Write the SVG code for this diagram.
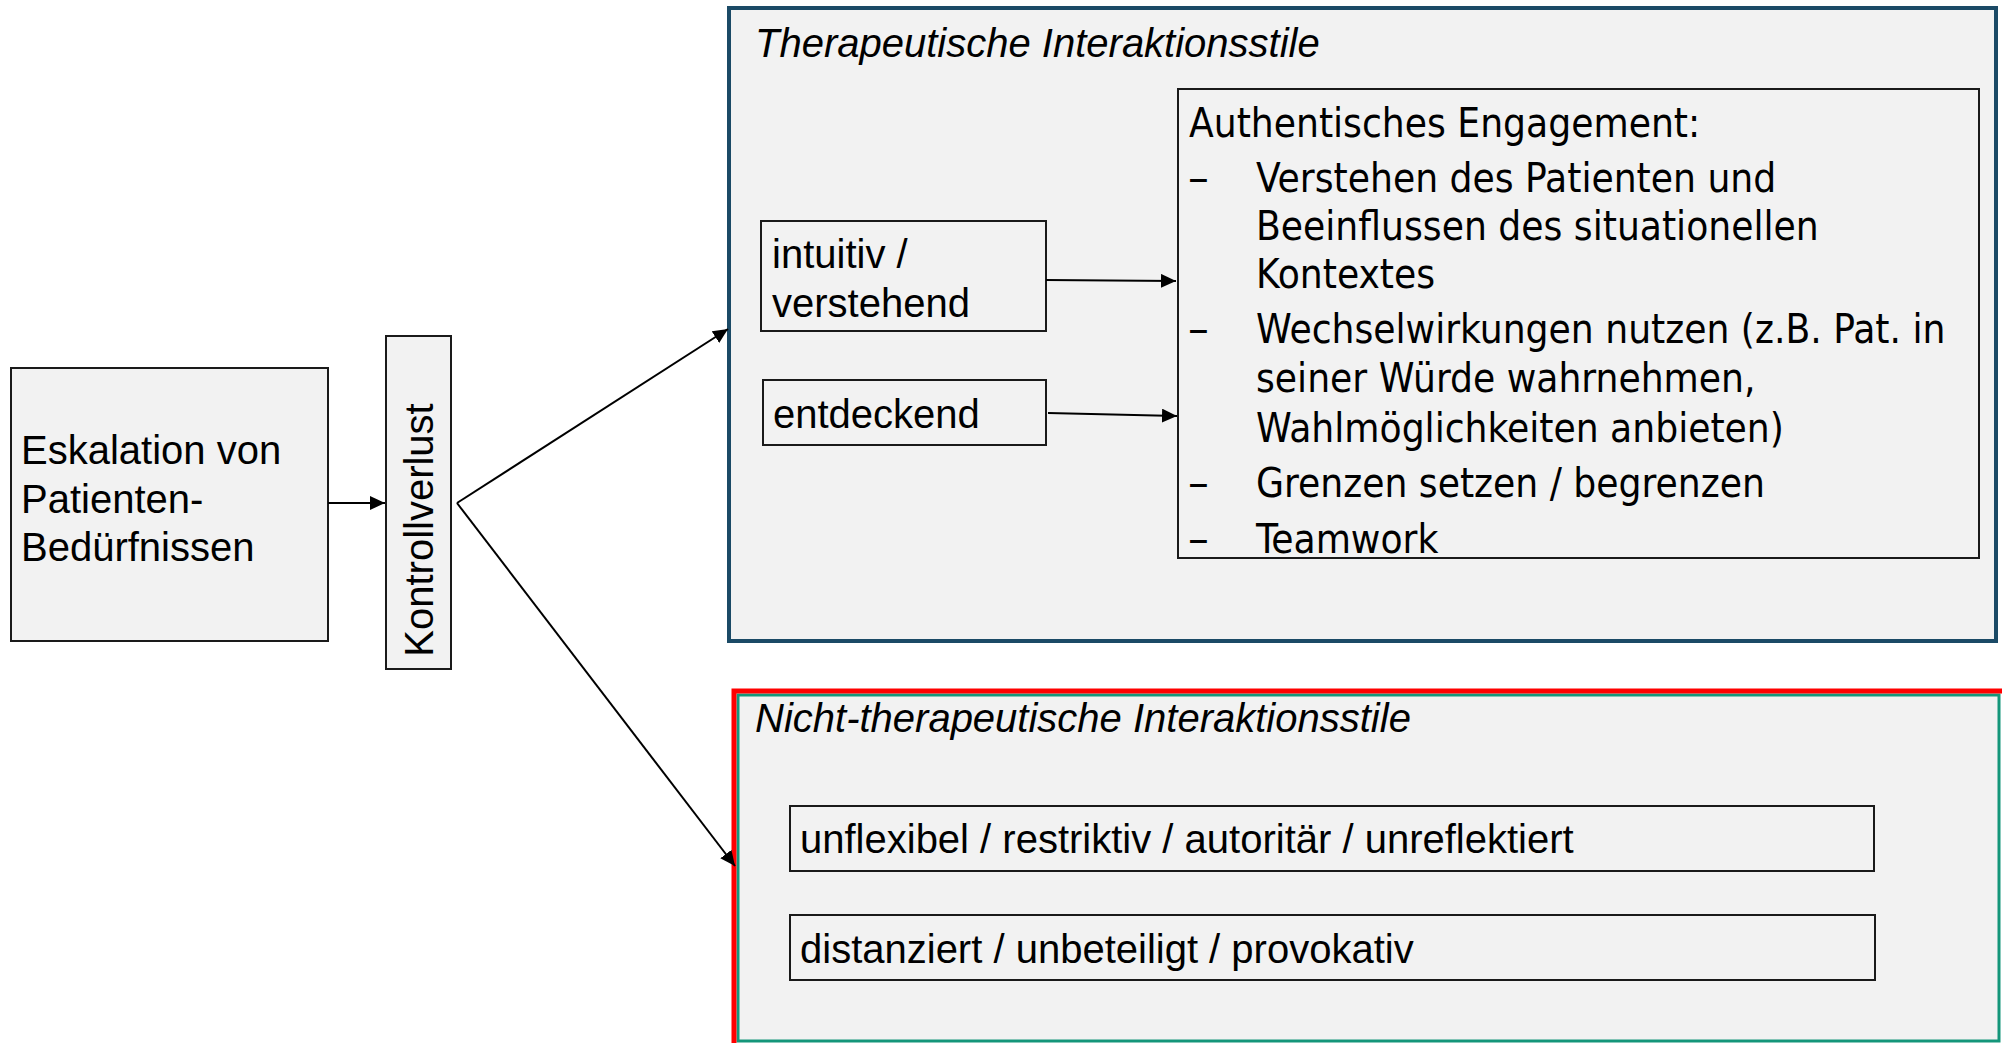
<svg xmlns="http://www.w3.org/2000/svg" width="2002" height="1043" viewBox="0 0 2002 1043">
<defs>
<style>
.box{fill:#f2f2f2;stroke:#1a1a1a;stroke-width:2}
.t{font-family:"Liberation Sans",Arial,sans-serif;font-size:40px;fill:#000}
.ti{font-family:"Liberation Sans",Arial,sans-serif;font-size:40px;font-style:italic;fill:#000}
.c{font-family:"DejaVu Sans Condensed","DejaVu Sans",sans-serif;font-stretch:condensed;font-size:40.2px;fill:#000}
.ln{stroke:#000;stroke-width:2;fill:none;marker-end:url(#ah)}
</style>
<marker id="ah" markerUnits="userSpaceOnUse" markerWidth="16" markerHeight="14" refX="15" refY="7" orient="auto">
<path d="M0,0 L15,7 L0,14 z" fill="#000"/>
</marker>
</defs>
<rect width="2002" height="1043" fill="#fff"/>

<g id="therapeutisch">
<rect x="729" y="8" width="1267" height="633" fill="#f2f2f2" stroke="#1b4a66" stroke-width="4"/>
<text class="ti" x="755" y="57">Therapeutische Interaktionsstile</text>
</g>

<g id="nicht-therapeutisch">
<rect x="738" y="695" width="1261" height="346" fill="#f2f2f2" stroke="#14967a" stroke-width="3"/>
<rect x="734" y="691" width="1300" height="400" fill="none" stroke="#ff0000" stroke-width="5"/>
<text class="ti" x="755" y="732">Nicht-therapeutische Interaktionsstile</text>
</g>

<g id="eskalation">
<rect class="box" x="11" y="368" width="317" height="273"/>
<text class="t" x="21" y="464">Eskalation von</text>
<text class="t" x="21" y="513">Patienten-</text>
<text class="t" x="21" y="561">Bedürfnissen</text>
</g>

<g id="kontrollverlust">
<rect class="box" x="386" y="336" width="65" height="333"/>
<text class="t" transform="translate(433,530) rotate(-90)" text-anchor="middle">Kontrollverlust</text>
</g>

<g id="intuitiv">
<rect class="box" x="761" y="221" width="285" height="110"/>
<text class="t" x="772" y="268">intuitiv /</text>
<text class="t" x="772" y="317">verstehend</text>
</g>

<g id="entdeckend">
<rect class="box" x="763" y="380" width="283" height="65"/>
<text class="t" x="773" y="428">entdeckend</text>
</g>

<g id="engagement">
<rect class="box" x="1178" y="89" width="801" height="469"/>
<text class="c" x="1189" y="137">Authentisches Engagement:</text>
<text class="c" x="1188" y="192" transform="translate(1188,0) scale(1.15,1) translate(-1188,0)">–</text>
<text class="c" x="1256" y="192">Verstehen des Patienten und</text>
<text class="c" x="1256" y="240">Beeinflussen des situationellen</text>
<text class="c" x="1256" y="288">Kontextes</text>
<text class="c" x="1188" y="343" transform="translate(1188,0) scale(1.15,1) translate(-1188,0)">–</text>
<text class="c" x="1256" y="343">Wechselwirkungen nutzen (z.B. Pat. in</text>
<text class="c" x="1256" y="392">seiner Würde wahrnehmen,</text>
<text class="c" x="1256" y="442">Wahlmöglichkeiten anbieten)</text>
<text class="c" x="1188" y="497" transform="translate(1188,0) scale(1.15,1) translate(-1188,0)">–</text>
<text class="c" x="1256" y="497">Grenzen setzen / begrenzen</text>
<text class="c" x="1188" y="553" transform="translate(1188,0) scale(1.15,1) translate(-1188,0)">–</text>
<text class="c" x="1256" y="553">Teamwork</text>
</g>

<g id="unflexibel">
<rect class="box" x="790" y="806" width="1084" height="65"/>
<text class="t" x="800" y="853">unflexibel / restriktiv / autoritär / unreflektiert</text>
</g>

<g id="distanziert">
<rect class="box" x="790" y="915" width="1085" height="65"/>
<text class="t" x="800" y="963">distanziert / unbeteiligt / provokativ</text>
</g>

<g id="connectors">
<line class="ln" x1="328" y1="503" x2="385" y2="503"/>
<line class="ln" x1="457" y1="503" x2="728" y2="329"/>
<line class="ln" x1="457" y1="503" x2="735" y2="866"/>
<line class="ln" x1="1046" y1="280" x2="1176" y2="281"/>
<line class="ln" x1="1048" y1="413" x2="1177" y2="416"/>
</g>
</svg>
